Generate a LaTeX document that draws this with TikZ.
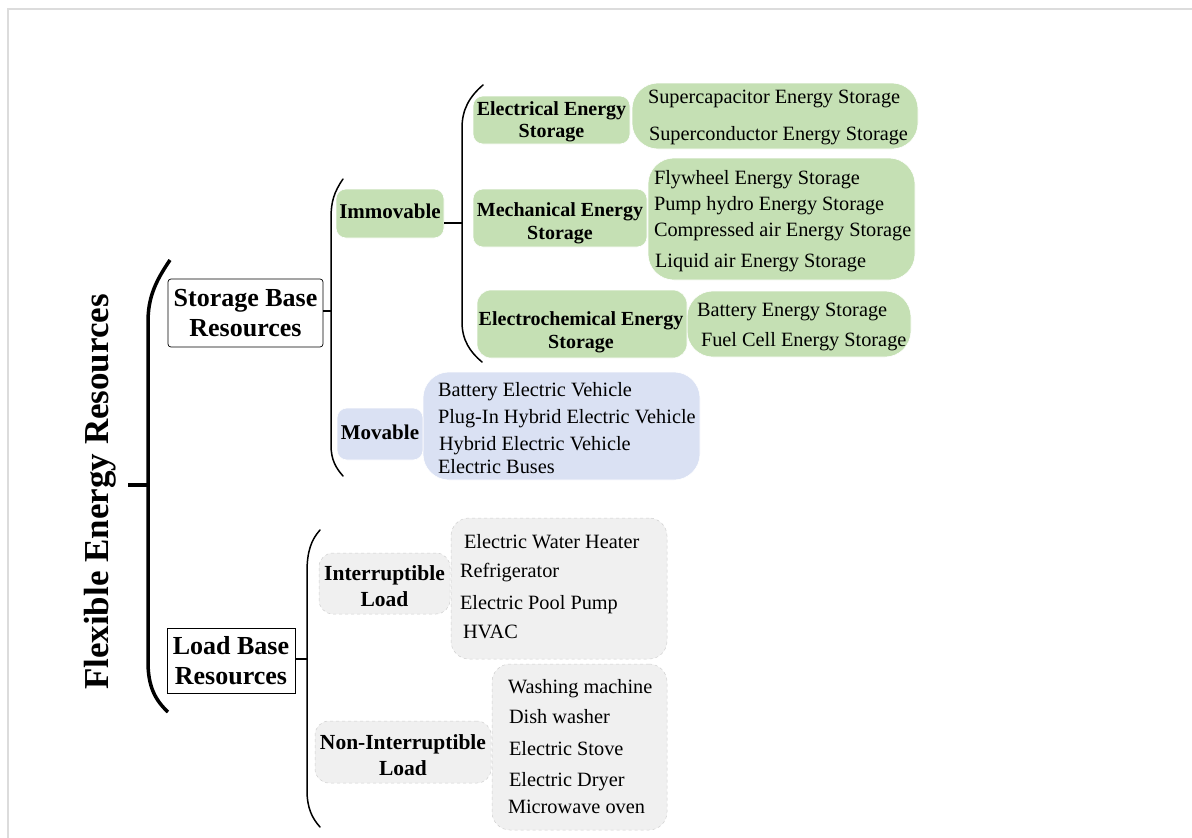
\documentclass[tikz,border=0pt]{standalone}
\usepackage{fontspec}
\setmainfont{Liberation Serif}
\definecolor{leafgreen}{HTML}{C5E0B4}
\definecolor{leafblue}{HTML}{DAE1F3}
\definecolor{leafgrey}{HTML}{F0F0F0}
\definecolor{edgegrey}{HTML}{CFCFCF}
\definecolor{framegrey}{HTML}{DCDCDC}
\begin{document}
\begin{tikzpicture}[x=1pt,y=-1pt,
  every node/.style={inner sep=0pt, outer sep=0pt},
  cat/.style={align=center, font=\bfseries\fontsize{20}{22}\selectfont},
  greencat/.style={fill=leafgreen, draw=white, line width=0.6pt, rounded corners=10pt},
  bluecat/.style={fill=leafblue, draw=white, line width=0.6pt, rounded corners=10pt},
  greycat/.style={fill=leafgrey, draw=edgegrey, dashed, line width=0.5pt, rounded corners=14pt},
  greenlist/.style={fill=leafgreen, draw=white, line width=0.6pt, rounded corners=26pt},
  bluelist/.style={fill=leafblue, draw=white, line width=0.6pt, rounded corners=26pt},
  greylist/.style={fill=leafgrey, draw=edgegrey, dashed, line width=0.5pt, rounded corners=18pt},
  item/.style={anchor=base west, font=\fontsize{20.3}{24}\selectfont},
  topbox/.style={align=center, draw, line width=0.7pt, fill=white, font=\bfseries\fontsize{26}{30}\selectfont},
  brace/.style={line width=1.5pt, line cap=round},
  link/.style={line width=1.5pt}
]
\useasboundingbox (0,0) rectangle (1192,838);

% page frame
\draw[framegrey, line width=1.5pt] (1192,9) -- (8,9) -- (8,838);

% root title and its brace
\node[rotate=90, font=\bfseries\fontsize{35}{42}\selectfont] (root) at (100,492) {Flexible Energy Resources};
\coordinate (rootspine) at (148,485);
\coordinate (roottick) at (128,485);
\draw[line width=3.5pt] (170,260) .. controls (155,282) and (148,298) .. (148,322)
  -- (148,662) .. controls (148,686) and (155,700) .. (168,712);
\draw[line width=3.5pt] (roottick) -- (rootspine);

% second level boxes
\node[topbox, minimum width=155pt, minimum height=68pt, rounded corners=3pt] (storage) at (245.5,313) {Storage Base\\Resources};
\node[topbox, minimum width=128pt, minimum height=65pt] (load) at (231,660.5) {Load Base\\Resources};

% brace of storage resources
\coordinate (sspine) at (331,311);
\draw[brace] (343,179) .. controls (334,192) and (331,202) .. (331,218)
  -- (331,445) .. controls (331,460) and (336,468) .. (343,476);
\draw[link] (storage.east |- sspine) -- (sspine);

% brace of load resources
\coordinate (lspine) at (307,659);
\draw[brace] (320,530) .. controls (311,540) and (307,552) .. (307,572)
  -- (307,790) .. controls (307,808) and (312,818) .. (320,827);
\draw[link] (load.east |- lspine) -- (lspine);

% immovable branch
\node[greencat, minimum width=108pt, minimum height=49pt] (immov) at (390,213.5) {};
\node[cat, font=\bfseries\fontsize{21}{23}\selectfont] (immovtxt) at (390,211.5) {Immovable};
\coordinate (ispine) at (462,223);
\draw[brace] (483,85) .. controls (469,97) and (462,110) .. (462,128)
  -- (462,322) .. controls (462,340) and (470,352) .. (482,362);
\draw[link] (immov.east |- ispine) -- (ispine);

% electrical energy storage
\node[greenlist, minimum width=286pt, minimum height=66pt] (elist) at (775,116) {};
\node[greencat, minimum width=157pt, minimum height=48pt] (elec) at (551.5,120) {};
\node[cat] (electxt) at (551.5,122) {Electrical Energy\\Storage};
\node[item] (e1) at (648,103) {Supercapacitor Energy Storage};
\node[item] (e2) at (649,140) {Superconductor Energy Storage};

% mechanical energy storage
\node[greenlist, minimum width=267pt, minimum height=122pt] (mlist) at (781.5,219) {};
\node[greencat, minimum width=174pt, minimum height=58pt] (mech) at (560,218) {};
\node[cat, font=\bfseries\fontsize{20}{23}\selectfont] (mechtxt) at (560,223) {Mechanical Energy\\Storage};
\node[item] (m1) at (654,184) {Flywheel Energy Storage};
\node[item] (m2) at (654,210) {Pump hydro Energy Storage};
\node[item] (m3) at (654,236) {Compressed air Energy Storage};
\node[item] (m4) at (655,267) {Liquid air Energy Storage};

% electrochemical energy storage
\node[greenlist, minimum width=224pt, minimum height=66pt] (clist) at (799,324) {};
\node[greencat, minimum width=210pt, minimum height=68pt, rounded corners=14pt] (chem) at (582,324) {};
\node[cat, font=\bfseries\fontsize{20}{23}\selectfont] (chemtxt) at (581,332) {Electrochemical Energy\\Storage};
\node[item] (c1) at (697,316) {Battery Energy Storage};
\node[item] (c2) at (701,346) {Fuel Cell Energy Storage};

% movable branch
\node[bluelist, minimum width=277pt, minimum height=108pt] (vlist) at (561.5,426) {};
\node[bluecat, minimum width=86pt, minimum height=52pt] (mov) at (380,434) {};
\node[cat, font=\bfseries\fontsize{21}{23}\selectfont] (movtxt) at (380,432) {Movable};
\node[item] (v1) at (438,396) {Battery Electric Vehicle};
\node[item] (v2) at (438,423) {Plug-In Hybrid Electric Vehicle};
\node[item] (v3) at (439,450) {Hybrid Electric Vehicle};
\node[item] (v4) at (438,473) {Electric Buses};

% interruptible load
\node[greylist, minimum width=216pt, minimum height=141pt] (ilist) at (559,588.5) {};
\node[greycat, minimum width=131pt, minimum height=61pt] (intr) at (384.5,583.5) {};
\node[cat, font=\bfseries\fontsize{21.5}{26}\selectfont] (intrtxt) at (384.5,586.5) {Interruptible\\Load};
\node[item] (i1) at (464,548) {Electric Water Heater};
\node[item] (i2) at (460,577) {Refrigerator};
\node[item] (i3) at (460,609) {Electric Pool Pump};
\node[item] (i4) at (463,638) {HVAC};

% non-interruptible load
\node[greylist, minimum width=175pt, minimum height=166pt] (nlist) at (579.5,747) {};
\node[greycat, minimum width=176pt, minimum height=62pt] (nonintr) at (403,752) {};
\node[cat, font=\bfseries\fontsize{21.5}{26}\selectfont] (nonintrtxt) at (403,755) {Non-Interruptible\\Load};
\node[item] (n1) at (508,693) {Washing machine};
\node[item] (n2) at (509,723) {Dish washer};
\node[item] (n3) at (509,755) {Electric Stove};
\node[item] (n4) at (509,786) {Electric Dryer};
\node[item] (n5) at (508,813) {Microwave oven};
\end{tikzpicture}
\end{document}
